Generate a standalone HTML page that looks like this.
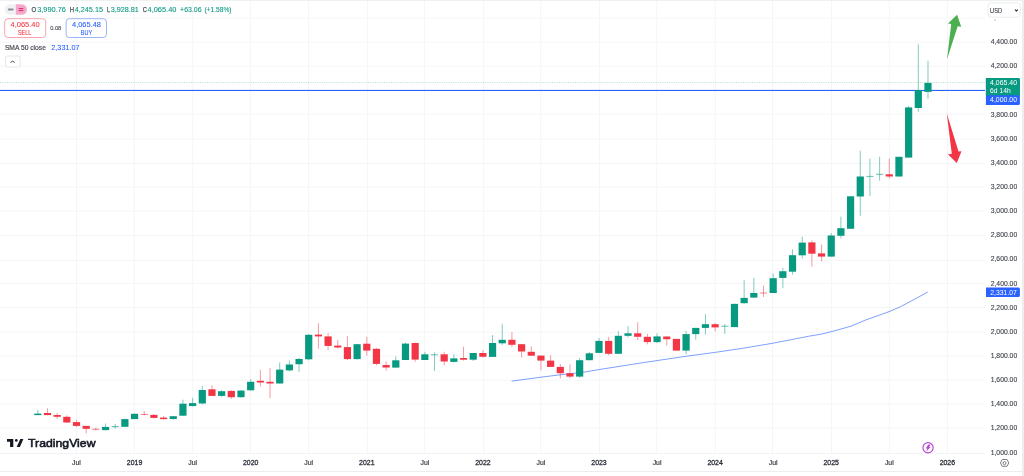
<!DOCTYPE html>
<html><head><meta charset="utf-8"><style>
html,body{margin:0;padding:0;background:#fff;}
body{width:1024px;height:476px;overflow:hidden;position:relative;font-family:"Liberation Sans",Arial,sans-serif;}
svg{position:absolute;left:0;top:0;will-change:transform;}
</style></head><body>
<svg width="1024" height="476" viewBox="0 0 1024 476" font-family="Liberation Sans, Arial, sans-serif">
<rect x="0" y="0" width="1024" height="476" fill="#fff"/>
<g fill="#f3f6f8"><rect x="76.00" y="0" width="1" height="453" /><rect x="133.80" y="0" width="1" height="453" /><rect x="192.20" y="0" width="1" height="453" /><rect x="249.90" y="0" width="1" height="453" /><rect x="308.10" y="0" width="1" height="453" /><rect x="366.90" y="0" width="1" height="453" /><rect x="423.90" y="0" width="1" height="453" /><rect x="483.20" y="0" width="1" height="453" /><rect x="540.20" y="0" width="1" height="453" /><rect x="599.00" y="0" width="1" height="453" /><rect x="656.20" y="0" width="1" height="453" /><rect x="714.80" y="0" width="1" height="453" /><rect x="772.00" y="0" width="1" height="453" /><rect x="831.00" y="0" width="1" height="453" /><rect x="888.80" y="0" width="1" height="453" /><rect x="946.90" y="0" width="1" height="453" /><rect x="0" y="17.60" width="985" height="1" /><rect x="0" y="41.80" width="985" height="1" /><rect x="0" y="65.80" width="985" height="1" /><rect x="0" y="89.80" width="985" height="1" /><rect x="0" y="113.60" width="985" height="1" /><rect x="0" y="138.60" width="985" height="1" /><rect x="0" y="162.90" width="985" height="1" /><rect x="0" y="186.50" width="985" height="1" /><rect x="0" y="210.50" width="985" height="1" /><rect x="0" y="235.00" width="985" height="1" /><rect x="0" y="259.80" width="985" height="1" /><rect x="0" y="282.80" width="985" height="1" /><rect x="0" y="307.10" width="985" height="1" /><rect x="0" y="331.70" width="985" height="1" /><rect x="0" y="355.60" width="985" height="1" /><rect x="0" y="379.70" width="985" height="1" /><rect x="0" y="403.70" width="985" height="1" /><rect x="0" y="427.60" width="985" height="1" /></g><rect x="0" y="453" width="985" height="1" fill="#f0f3f5"/><polyline fill="none" stroke="#2962ff" stroke-opacity="0.6" stroke-width="1" points="511.6,381.1 540.9,377.2 565.9,374.1 583.1,372.3 598.8,369.6 630.0,364.7 650.0,361.6 686.7,356.2 715.6,352.3 743.8,348.1 760.0,345.4 771.9,343.4 795.2,338.9 809.4,336.1 821.5,334.1 839.1,329.6 851.4,326.0 865.4,320.1 878.0,315.6 890.0,311.3 900.6,306.7 915.0,299.0 927.8,292.0"/><line x1="0" y1="82.5" x2="985" y2="82.5" stroke="#089981" stroke-opacity="0.3" stroke-width="1" stroke-dasharray="1 1.3"/><rect x="0" y="89.9" width="986" height="1.1" fill="#2962ff"/><g fill="#089981" fill-opacity="0.5"><rect x="37.30" y="409.90" width="1" height="5.20"/><rect x="105.03" y="423.50" width="1" height="6.90"/><rect x="114.70" y="423.90" width="1" height="4.70"/><rect x="124.38" y="418.50" width="1" height="8.30"/><rect x="134.06" y="413.30" width="1" height="5.80"/><rect x="172.76" y="416.00" width="1" height="3.90"/><rect x="182.44" y="399.70" width="1" height="16.00"/><rect x="192.11" y="397.80" width="1" height="8.70"/><rect x="201.79" y="385.80" width="1" height="18.50"/><rect x="221.14" y="390.20" width="1" height="6.70"/><rect x="240.49" y="390.00" width="1" height="7.50"/><rect x="250.17" y="379.20" width="1" height="11.30"/><rect x="279.20" y="362.40" width="1" height="21.10"/><rect x="288.87" y="360.30" width="1" height="11.00"/><rect x="298.55" y="357.80" width="1" height="14.00"/><rect x="308.22" y="334.00" width="1" height="26.30"/><rect x="356.60" y="344.00" width="1" height="15.50"/><rect x="395.31" y="356.50" width="1" height="11.10"/><rect x="404.98" y="342.60" width="1" height="17.40"/><rect x="424.34" y="351.80" width="1" height="8.20"/><rect x="434.01" y="352.50" width="1" height="18.50"/><rect x="453.36" y="354.20" width="1" height="8.30"/><rect x="472.72" y="353.00" width="1" height="8.00"/><rect x="492.07" y="335.10" width="1" height="21.80"/><rect x="501.74" y="323.80" width="1" height="21.10"/><rect x="579.15" y="358.00" width="1" height="19.90"/><rect x="588.83" y="352.00" width="1" height="8.20"/><rect x="598.50" y="338.10" width="1" height="14.80"/><rect x="617.86" y="331.20" width="1" height="22.60"/><rect x="627.53" y="326.00" width="1" height="11.50"/><rect x="656.56" y="333.30" width="1" height="9.70"/><rect x="685.59" y="330.80" width="1" height="23.50"/><rect x="695.26" y="327.90" width="1" height="11.80"/><rect x="704.94" y="314.10" width="1" height="20.50"/><rect x="724.29" y="324.00" width="1" height="9.80"/><rect x="733.97" y="303.50" width="1" height="23.60"/><rect x="743.64" y="280.10" width="1" height="23.40"/><rect x="753.32" y="277.90" width="1" height="19.70"/><rect x="772.67" y="273.40" width="1" height="19.60"/><rect x="782.35" y="267.80" width="1" height="20.20"/><rect x="792.02" y="249.30" width="1" height="25.20"/><rect x="801.70" y="236.70" width="1" height="21.90"/><rect x="830.73" y="233.00" width="1" height="23.60"/><rect x="840.40" y="216.60" width="1" height="21.70"/><rect x="850.08" y="196.00" width="1" height="32.80"/><rect x="859.76" y="150.70" width="1" height="65.10"/><rect x="869.43" y="158.60" width="1" height="37.40"/><rect x="879.11" y="156.80" width="1" height="23.80"/><rect x="898.46" y="156.80" width="1" height="19.70"/><rect x="908.14" y="106.10" width="1" height="51.50"/><rect x="917.81" y="44.30" width="1" height="67.50"/><rect x="927.49" y="60.70" width="1" height="38.10"/></g><g fill="#f23645" fill-opacity="0.5"><rect x="46.97" y="408.40" width="1" height="6.70"/><rect x="56.65" y="413.00" width="1" height="5.90"/><rect x="66.32" y="415.50" width="1" height="7.60"/><rect x="76.00" y="420.20" width="1" height="6.80"/><rect x="85.68" y="425.90" width="1" height="7.50"/><rect x="95.35" y="427.60" width="1" height="2.90"/><rect x="143.73" y="411.00" width="1" height="4.50"/><rect x="153.41" y="414.10" width="1" height="4.30"/><rect x="163.08" y="416.00" width="1" height="3.50"/><rect x="211.46" y="385.20" width="1" height="10.80"/><rect x="230.82" y="390.50" width="1" height="8.30"/><rect x="259.84" y="369.60" width="1" height="16.80"/><rect x="269.52" y="367.90" width="1" height="30.30"/><rect x="317.90" y="323.30" width="1" height="25.40"/><rect x="327.58" y="332.90" width="1" height="17.10"/><rect x="337.25" y="339.90" width="1" height="8.90"/><rect x="346.93" y="336.20" width="1" height="23.90"/><rect x="366.28" y="336.80" width="1" height="18.80"/><rect x="375.96" y="348.00" width="1" height="17.40"/><rect x="385.63" y="361.40" width="1" height="9.10"/><rect x="414.66" y="342.50" width="1" height="19.30"/><rect x="443.69" y="351.80" width="1" height="13.50"/><rect x="463.04" y="346.80" width="1" height="13.80"/><rect x="482.39" y="350.00" width="1" height="7.50"/><rect x="511.42" y="332.20" width="1" height="14.90"/><rect x="521.10" y="344.20" width="1" height="13.30"/><rect x="530.77" y="346.40" width="1" height="9.30"/><rect x="540.45" y="355.60" width="1" height="14.70"/><rect x="550.12" y="355.20" width="1" height="11.70"/><rect x="559.80" y="364.00" width="1" height="14.50"/><rect x="569.48" y="364.30" width="1" height="13.60"/><rect x="608.18" y="336.80" width="1" height="18.50"/><rect x="637.21" y="322.30" width="1" height="17.70"/><rect x="646.88" y="333.90" width="1" height="10.40"/><rect x="666.24" y="336.50" width="1" height="9.10"/><rect x="675.91" y="338.90" width="1" height="11.70"/><rect x="714.62" y="322.90" width="1" height="8.40"/><rect x="763.00" y="285.50" width="1" height="11.40"/><rect x="811.38" y="240.40" width="1" height="26.20"/><rect x="821.05" y="244.60" width="1" height="16.80"/><rect x="888.78" y="158.60" width="1" height="19.80"/></g><g fill="#089981"><rect x="34.20" y="413.60" width="7.2" height="1.50"/><rect x="101.93" y="426.90" width="7.2" height="3.20"/><rect x="111.60" y="426.00" width="7.2" height="1.20" fill-opacity="0.6"/><rect x="121.28" y="419.10" width="7.2" height="7.70"/><rect x="130.96" y="413.80" width="7.2" height="5.30"/><rect x="169.66" y="416.20" width="7.2" height="2.80"/><rect x="179.34" y="403.70" width="7.2" height="12.00"/><rect x="189.01" y="403.10" width="7.2" height="2.90"/><rect x="198.69" y="390.00" width="7.2" height="13.50"/><rect x="218.04" y="391.20" width="7.2" height="4.70"/><rect x="237.39" y="390.60" width="7.2" height="6.60"/><rect x="247.07" y="381.80" width="7.2" height="8.50"/><rect x="276.10" y="369.60" width="7.2" height="13.90"/><rect x="285.77" y="364.50" width="7.2" height="5.90"/><rect x="295.45" y="359.00" width="7.2" height="5.20"/><rect x="305.12" y="334.80" width="7.2" height="24.50"/><rect x="353.50" y="344.20" width="7.2" height="14.90"/><rect x="392.21" y="360.30" width="7.2" height="7.30"/><rect x="401.88" y="343.60" width="7.2" height="16.40"/><rect x="421.24" y="354.30" width="7.2" height="5.70"/><rect x="430.91" y="354.30" width="7.2" height="1.00" fill-opacity="0.6"/><rect x="450.26" y="358.40" width="7.2" height="3.50"/><rect x="469.62" y="353.00" width="7.2" height="6.70"/><rect x="488.97" y="343.00" width="7.2" height="13.90"/><rect x="498.64" y="339.80" width="7.2" height="3.50"/><rect x="576.05" y="360.20" width="7.2" height="16.40"/><rect x="585.73" y="353.30" width="7.2" height="6.90"/><rect x="595.40" y="340.90" width="7.2" height="12.00"/><rect x="614.76" y="335.80" width="7.2" height="18.00"/><rect x="624.43" y="333.30" width="7.2" height="2.50"/><rect x="653.46" y="336.40" width="7.2" height="5.70"/><rect x="682.49" y="334.10" width="7.2" height="16.50"/><rect x="692.16" y="327.90" width="7.2" height="6.20"/><rect x="701.84" y="324.20" width="7.2" height="3.70"/><rect x="721.19" y="325.70" width="7.2" height="1.00" fill-opacity="0.6"/><rect x="730.87" y="303.90" width="7.2" height="23.20"/><rect x="740.54" y="297.90" width="7.2" height="5.30"/><rect x="750.22" y="293.00" width="7.2" height="4.60"/><rect x="769.57" y="278.20" width="7.2" height="14.80"/><rect x="779.25" y="271.20" width="7.2" height="6.70"/><rect x="788.92" y="255.20" width="7.2" height="16.50"/><rect x="798.60" y="242.60" width="7.2" height="12.70"/><rect x="827.63" y="235.50" width="7.2" height="21.10"/><rect x="837.30" y="228.20" width="7.2" height="7.60"/><rect x="846.98" y="196.30" width="7.2" height="32.50"/><rect x="856.66" y="176.50" width="7.2" height="20.00"/><rect x="866.33" y="175.90" width="7.2" height="1.00" fill-opacity="0.6"/><rect x="876.01" y="173.80" width="7.2" height="1.00" fill-opacity="0.6"/><rect x="895.36" y="156.80" width="7.2" height="19.70"/><rect x="905.04" y="107.40" width="7.2" height="50.20"/><rect x="914.71" y="90.00" width="7.2" height="18.00"/><rect x="924.39" y="82.90" width="7.2" height="9.00"/></g><g fill="#f23645"><rect x="43.87" y="413.00" width="7.2" height="2.10"/><rect x="53.55" y="415.00" width="7.2" height="1.80"/><rect x="63.22" y="416.80" width="7.2" height="5.70"/><rect x="72.90" y="422.10" width="7.2" height="3.80"/><rect x="82.58" y="425.90" width="7.2" height="2.90"/><rect x="92.25" y="428.70" width="7.2" height="1.10" fill-opacity="0.6"/><rect x="140.63" y="413.90" width="7.2" height="1.10" fill-opacity="0.6"/><rect x="150.31" y="414.90" width="7.2" height="3.00"/><rect x="159.98" y="417.60" width="7.2" height="1.50"/><rect x="208.36" y="389.30" width="7.2" height="6.60"/><rect x="227.72" y="390.90" width="7.2" height="6.30"/><rect x="256.74" y="380.80" width="7.2" height="1.70"/><rect x="266.42" y="381.80" width="7.2" height="1.70"/><rect x="314.80" y="334.60" width="7.2" height="1.80"/><rect x="324.48" y="336.40" width="7.2" height="9.50"/><rect x="334.15" y="345.60" width="7.2" height="1.90"/><rect x="343.83" y="347.10" width="7.2" height="12.00"/><rect x="363.18" y="343.70" width="7.2" height="6.90"/><rect x="372.86" y="348.80" width="7.2" height="15.10"/><rect x="382.53" y="365.00" width="7.2" height="2.50"/><rect x="411.56" y="343.00" width="7.2" height="16.60"/><rect x="440.59" y="354.30" width="7.2" height="7.20"/><rect x="459.94" y="358.00" width="7.2" height="1.70"/><rect x="479.29" y="353.00" width="7.2" height="3.80"/><rect x="508.32" y="339.80" width="7.2" height="5.00"/><rect x="518.00" y="344.20" width="7.2" height="7.30"/><rect x="527.67" y="351.80" width="7.2" height="3.90"/><rect x="537.35" y="355.60" width="7.2" height="5.00"/><rect x="547.02" y="360.60" width="7.2" height="6.30"/><rect x="556.70" y="366.90" width="7.2" height="6.30"/><rect x="566.38" y="373.20" width="7.2" height="3.40"/><rect x="605.08" y="340.90" width="7.2" height="12.90"/><rect x="634.11" y="333.30" width="7.2" height="3.50"/><rect x="643.78" y="336.80" width="7.2" height="5.30"/><rect x="663.14" y="336.50" width="7.2" height="2.70"/><rect x="672.81" y="338.90" width="7.2" height="11.70"/><rect x="711.52" y="324.20" width="7.2" height="3.20"/><rect x="759.90" y="292.50" width="7.2" height="1.00" fill-opacity="0.6"/><rect x="808.28" y="242.40" width="7.2" height="11.30"/><rect x="817.95" y="253.40" width="7.2" height="3.20"/><rect x="885.68" y="174.30" width="7.2" height="2.20"/></g><polygon fill="#4caf50" points="947,59.2 951.2,24.1 948,23.6 957.1,14.8 961.2,26.8 957.7,26.2"/><polygon fill="#f23645" points="946.8,113.5 958.5,151.5 961.5,151.3 956.8,163.1 947.9,154.3 951.8,154"/><circle cx="928.05" cy="447.7" r="5.1" fill="#fff" stroke="#b94ad2" stroke-width="1.2"/><polygon points="928.3,444.4 930.6,444.4 929.2,447.1 930.7,447.1 926.2,451.4 927.4,448.6 925.7,448.6" fill="#b94ad2"/>
<rect x="985" y="0" width="39" height="476" fill="#fff"/>
<rect x="0" y="454" width="1024" height="22" fill="#fff"/>
<g><text x="990.70" y="44.11" font-size="7.7" fill="#3d4049" stroke="#3d4049" stroke-width="0.12" textLength="26.50" lengthAdjust="spacingAndGlyphs">4,400.00</text><text x="990.70" y="68.26" font-size="7.7" fill="#3d4049" stroke="#3d4049" stroke-width="0.12" textLength="26.50" lengthAdjust="spacingAndGlyphs">4,200.00</text><text x="990.70" y="116.55" font-size="7.7" fill="#3d4049" stroke="#3d4049" stroke-width="0.12" textLength="26.50" lengthAdjust="spacingAndGlyphs">3,800.00</text><text x="990.70" y="140.69" font-size="7.7" fill="#3d4049" stroke="#3d4049" stroke-width="0.12" textLength="26.50" lengthAdjust="spacingAndGlyphs">3,600.00</text><text x="990.70" y="164.84" font-size="7.7" fill="#3d4049" stroke="#3d4049" stroke-width="0.12" textLength="26.50" lengthAdjust="spacingAndGlyphs">3,400.00</text><text x="990.70" y="188.99" font-size="7.7" fill="#3d4049" stroke="#3d4049" stroke-width="0.12" textLength="26.50" lengthAdjust="spacingAndGlyphs">3,200.00</text><text x="990.70" y="213.13" font-size="7.7" fill="#3d4049" stroke="#3d4049" stroke-width="0.12" textLength="26.50" lengthAdjust="spacingAndGlyphs">3,000.00</text><text x="990.70" y="237.28" font-size="7.7" fill="#3d4049" stroke="#3d4049" stroke-width="0.12" textLength="26.50" lengthAdjust="spacingAndGlyphs">2,800.00</text><text x="990.70" y="261.42" font-size="7.7" fill="#3d4049" stroke="#3d4049" stroke-width="0.12" textLength="26.50" lengthAdjust="spacingAndGlyphs">2,600.00</text><text x="990.70" y="285.57" font-size="7.7" fill="#3d4049" stroke="#3d4049" stroke-width="0.12" textLength="26.50" lengthAdjust="spacingAndGlyphs">2,400.00</text><text x="990.70" y="309.72" font-size="7.7" fill="#3d4049" stroke="#3d4049" stroke-width="0.12" textLength="26.50" lengthAdjust="spacingAndGlyphs">2,200.00</text><text x="990.70" y="333.86" font-size="7.7" fill="#3d4049" stroke="#3d4049" stroke-width="0.12" textLength="26.50" lengthAdjust="spacingAndGlyphs">2,000.00</text><text x="990.70" y="358.01" font-size="7.7" fill="#3d4049" stroke="#3d4049" stroke-width="0.12" textLength="26.50" lengthAdjust="spacingAndGlyphs">1,800.00</text><text x="990.70" y="382.15" font-size="7.7" fill="#3d4049" stroke="#3d4049" stroke-width="0.12" textLength="26.50" lengthAdjust="spacingAndGlyphs">1,600.00</text><text x="990.70" y="406.30" font-size="7.7" fill="#3d4049" stroke="#3d4049" stroke-width="0.12" textLength="26.50" lengthAdjust="spacingAndGlyphs">1,400.00</text><text x="990.70" y="430.45" font-size="7.7" fill="#3d4049" stroke="#3d4049" stroke-width="0.12" textLength="26.50" lengthAdjust="spacingAndGlyphs">1,200.00</text><text x="990.70" y="454.59" font-size="7.7" fill="#3d4049" stroke="#3d4049" stroke-width="0.12" textLength="26.50" lengthAdjust="spacingAndGlyphs">1,000.00</text></g>
<rect x="988" y="2.8" width="32.4" height="14.4" rx="3" fill="#fff" stroke="#e9edf1" stroke-width="1"/>
<text x="990.00" y="12.50" font-size="7.9" fill="#3a3d46" stroke="#3a3d46" stroke-width="0.12" textLength="12.10" lengthAdjust="spacingAndGlyphs">USD</text>
<path d="M1015,9.7 L1016.4,11.0 L1017.8,9.7" fill="none" stroke="#222" stroke-width="1.1"/>
<rect x="994.6" y="19.3" width="0.8" height="1.6" fill="#a0a3aa"/>
<path d="M985.9,78 H1018.4 a1.5,1.5 0 0 1 1.5,1.5 V103.4 a1.5,1.5 0 0 1 -1.5,1.5 H985.9 Z" fill="#2962ff"/>
<path d="M985.9,78 H1018.4 a1.5,1.5 0 0 1 1.5,1.5 V95.2 H985.9 Z" fill="#089981"/>
<text x="990.10" y="85.00" font-size="7.3" fill="#fff" textLength="26.90" lengthAdjust="spacingAndGlyphs">4,065.40</text>
<text x="990.10" y="93.00" font-size="7.3" fill="#fff" textLength="20.60" lengthAdjust="spacingAndGlyphs">6d 14h</text>
<text x="990.10" y="102.20" font-size="7.3" fill="#fff" textLength="26.90" lengthAdjust="spacingAndGlyphs">4,000.00</text>
<path d="M986,287.6 H1018.4 a1.5,1.5 0 0 1 1.5,1.5 V295.4 a1.5,1.5 0 0 1 -1.5,1.5 H986 Z" fill="#2962ff"/>
<text x="990.30" y="294.70" font-size="7.3" fill="#fff" textLength="26.60" lengthAdjust="spacingAndGlyphs">2,331.07</text>
<g><text x="72.10" y="465.10" font-size="7.5" fill="#3a3d46" stroke="#3a3d46" stroke-width="0.2" textLength="8.80" lengthAdjust="spacingAndGlyphs">Jul</text><text x="126.86" y="465.10" font-size="7.5" fill="#2a2e39" stroke="#2a2e39" stroke-width="0.3" textLength="15.40" lengthAdjust="spacingAndGlyphs">2019</text><text x="188.21" y="465.10" font-size="7.5" fill="#3a3d46" stroke="#3a3d46" stroke-width="0.2" textLength="8.80" lengthAdjust="spacingAndGlyphs">Jul</text><text x="242.97" y="465.10" font-size="7.5" fill="#2a2e39" stroke="#2a2e39" stroke-width="0.3" textLength="15.40" lengthAdjust="spacingAndGlyphs">2020</text><text x="304.32" y="465.10" font-size="7.5" fill="#3a3d46" stroke="#3a3d46" stroke-width="0.2" textLength="8.80" lengthAdjust="spacingAndGlyphs">Jul</text><text x="359.08" y="465.10" font-size="7.5" fill="#2a2e39" stroke="#2a2e39" stroke-width="0.3" textLength="15.40" lengthAdjust="spacingAndGlyphs">2021</text><text x="420.44" y="465.10" font-size="7.5" fill="#3a3d46" stroke="#3a3d46" stroke-width="0.2" textLength="8.80" lengthAdjust="spacingAndGlyphs">Jul</text><text x="475.19" y="465.10" font-size="7.5" fill="#2a2e39" stroke="#2a2e39" stroke-width="0.3" textLength="15.40" lengthAdjust="spacingAndGlyphs">2022</text><text x="536.55" y="465.10" font-size="7.5" fill="#3a3d46" stroke="#3a3d46" stroke-width="0.2" textLength="8.80" lengthAdjust="spacingAndGlyphs">Jul</text><text x="591.30" y="465.10" font-size="7.5" fill="#2a2e39" stroke="#2a2e39" stroke-width="0.3" textLength="15.40" lengthAdjust="spacingAndGlyphs">2023</text><text x="652.66" y="465.10" font-size="7.5" fill="#3a3d46" stroke="#3a3d46" stroke-width="0.2" textLength="8.80" lengthAdjust="spacingAndGlyphs">Jul</text><text x="707.42" y="465.10" font-size="7.5" fill="#2a2e39" stroke="#2a2e39" stroke-width="0.3" textLength="15.40" lengthAdjust="spacingAndGlyphs">2024</text><text x="768.77" y="465.10" font-size="7.5" fill="#3a3d46" stroke="#3a3d46" stroke-width="0.2" textLength="8.80" lengthAdjust="spacingAndGlyphs">Jul</text><text x="823.53" y="465.10" font-size="7.5" fill="#2a2e39" stroke="#2a2e39" stroke-width="0.3" textLength="15.40" lengthAdjust="spacingAndGlyphs">2025</text><text x="884.88" y="465.10" font-size="7.5" fill="#3a3d46" stroke="#3a3d46" stroke-width="0.2" textLength="8.80" lengthAdjust="spacingAndGlyphs">Jul</text><text x="939.64" y="465.10" font-size="7.5" fill="#2a2e39" stroke="#2a2e39" stroke-width="0.3" textLength="15.40" lengthAdjust="spacingAndGlyphs">2026</text></g>
<rect x="0" y="471" width="1022" height="1" fill="#ebedee"/>
<rect x="1022" y="0" width="2" height="476" fill="#eeeeee"/>
<rect x="0" y="0" width="1024" height="1" fill="#eff1f0"/>
<path d="M1000.4,462.9 L1002.2,459.5 L1007.0,459.5 L1008.8,462.9 L1007.0,466.3 L1002.2,466.3 Z" fill="none" stroke="#7a7d85" stroke-width="1"/>
<circle cx="1004.5" cy="463.1" r="1.5" fill="none" stroke="#7a7d85" stroke-width="1"/>
<path d="M7,438.9 H13.3 V446.9 H10.1 V441.7 H7 Z" fill="#131722"/>
<circle cx="16.3" cy="440.4" r="1.35" fill="#131722"/>
<path d="M20.3,438.9 H23.4 L19.9,446.9 H16.7 Z" fill="#131722"/>
<text x="28.10" y="447.00" font-size="11.3" fill="#131722" textLength="67.40" lengthAdjust="spacingAndGlyphs" stroke="#131722" stroke-width="0.55">TradingView</text>
<path d="M10,4.2 H15.8 V14.8 H10 a5.3,5.3 0 0 1 0,-10.6 Z" fill="#eff1f4"/>
<rect x="7.8" y="8.6" width="5.8" height="2" rx="1" fill="#8a8d95"/>
<path d="M15.8,4.2 H21.6 a5.3,5.3 0 0 1 0,10.6 H15.8 Z" fill="#f4a9cc"/>
<rect x="18.7" y="8" width="4.6" height="1.1" fill="#e0306f"/>
<rect x="18.7" y="10" width="4.6" height="1.1" fill="#e0306f"/>
<rect x="4.7" y="18.7" width="41" height="18.8" rx="3.2" fill="#fff" stroke="#f7a4ab" stroke-width="1"/>
<rect x="66.1" y="18.7" width="40.4" height="18.8" rx="3.2" fill="#fff" stroke="#9db4f9" stroke-width="1"/>
<rect x="5.4" y="56" width="14.8" height="11" rx="2" fill="#fff" stroke="#e3e6eb" stroke-width="1"/>
<path d="M10.6,62.8 L12.6,60.8 L14.6,62.8" fill="none" stroke="#3a3d46" stroke-width="1"/>
<text x="31.50" y="12.20" font-size="6.8" fill="#4a4d55" stroke="#4a4d55" stroke-width="0.25" textLength="4.70" lengthAdjust="spacingAndGlyphs">O</text><text x="37.20" y="12.20" font-size="6.8" fill="#089981" stroke="#089981" stroke-width="0.08" textLength="28.70" lengthAdjust="spacingAndGlyphs">3,990.76</text><text x="69.80" y="12.20" font-size="6.8" fill="#4a4d55" stroke="#4a4d55" stroke-width="0.25" textLength="4.30" lengthAdjust="spacingAndGlyphs">H</text><text x="74.70" y="12.20" font-size="6.8" fill="#089981" stroke="#089981" stroke-width="0.08" textLength="28.30" lengthAdjust="spacingAndGlyphs">4,245.15</text><text x="106.90" y="12.20" font-size="6.8" fill="#4a4d55" stroke="#4a4d55" stroke-width="0.25" textLength="3.00" lengthAdjust="spacingAndGlyphs">L</text><text x="110.80" y="12.20" font-size="6.8" fill="#089981" stroke="#089981" stroke-width="0.08" textLength="28.10" lengthAdjust="spacingAndGlyphs">3,928.81</text><text x="142.80" y="12.20" font-size="6.8" fill="#4a4d55" stroke="#4a4d55" stroke-width="0.25" textLength="4.20" lengthAdjust="spacingAndGlyphs">C</text><text x="147.50" y="12.20" font-size="6.8" fill="#089981" stroke="#089981" stroke-width="0.08" textLength="28.90" lengthAdjust="spacingAndGlyphs">4,065.40</text><text x="180.10" y="12.20" font-size="6.8" fill="#089981" stroke="#089981" stroke-width="0.08" textLength="21.50" lengthAdjust="spacingAndGlyphs">+63.06</text><text x="204.40" y="12.20" font-size="6.8" fill="#089981" stroke="#089981" stroke-width="0.08" textLength="27.20" lengthAdjust="spacingAndGlyphs">(+1.58%)</text><text x="4.90" y="50.20" font-size="7.4" fill="#3a3d46" stroke="#3a3d46" stroke-width="0.15" textLength="41.00" lengthAdjust="spacingAndGlyphs">SMA 50 close</text><text x="51.30" y="50.20" font-size="7.4" fill="#2962ff" stroke="#2962ff" stroke-width="0.08" textLength="28.30" lengthAdjust="spacingAndGlyphs">2,331.07</text><text x="10.60" y="26.80" font-size="7.2" fill="#f23645" stroke="#f23645" stroke-width="0.08" textLength="29.00" lengthAdjust="spacingAndGlyphs">4,065.40</text><text x="17.90" y="34.50" font-size="6.5" fill="#f23645" stroke="#f23645" stroke-width="0.08" textLength="13.50" lengthAdjust="spacingAndGlyphs">SELL</text><text x="72.00" y="26.80" font-size="7.2" fill="#2962ff" stroke="#2962ff" stroke-width="0.08" textLength="29.00" lengthAdjust="spacingAndGlyphs">4,065.48</text><text x="80.80" y="34.60" font-size="6.8" fill="#2962ff" stroke="#2962ff" stroke-width="0.08" textLength="11.30" lengthAdjust="spacingAndGlyphs">BUY</text><text x="50.20" y="30.10" font-size="5.3" fill="#3a3d46" stroke="#3a3d46" stroke-width="0.08" textLength="11.10" lengthAdjust="spacingAndGlyphs">0.08</text>
</svg>
</body></html>
